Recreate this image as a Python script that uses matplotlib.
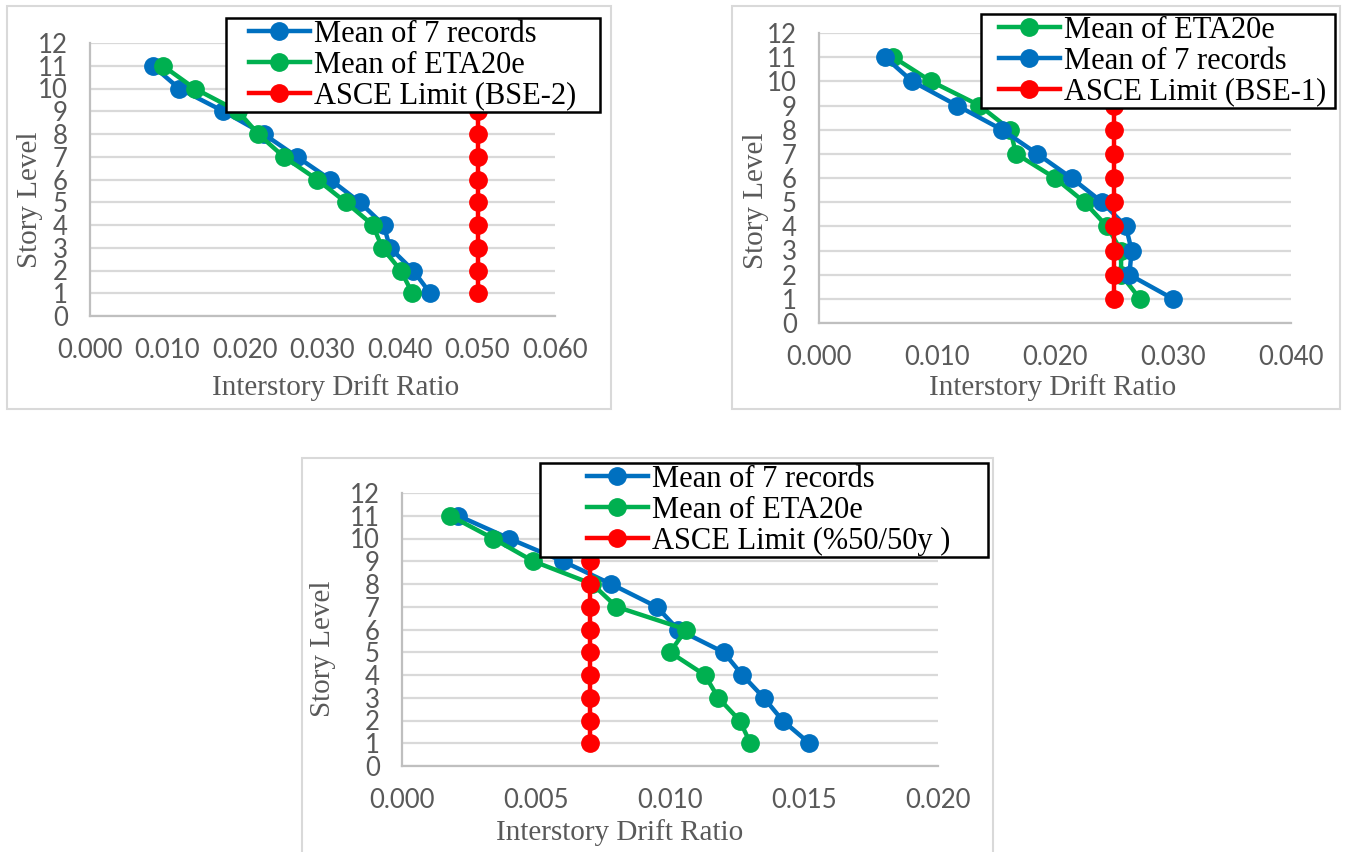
import matplotlib
matplotlib.use('Agg')
import matplotlib.pyplot as plt
from matplotlib.lines import Line2D
from matplotlib.legend_handler import HandlerLine2D
from matplotlib.patches import Rectangle
from matplotlib.ticker import FormatStrFormatter

plt.rcParams['font.family'] = ['Lato', 'DejaVu Sans']

# ---- data (story levels 1..11) ----
levels = [1, 2, 3, 4, 5, 6, 7, 8, 9, 10, 11]

# top-left panel (BSE-2)
p1_records = [0.0439, 0.0417, 0.0387, 0.0379, 0.0348, 0.0310, 0.0267, 0.0224, 0.0172, 0.0115, 0.0081]
p1_eta = [0.0416, 0.0401, 0.0377, 0.0365, 0.0330, 0.0293, 0.0250, 0.0217, 0.0191, 0.0135, 0.0094]
p1_limit = [0.050, 0.050, 0.050, 0.050, 0.050, 0.050, 0.050, 0.050, 0.050, 0.050, 0.050]
p1_xticks = [0.000, 0.010, 0.020, 0.030, 0.040, 0.050, 0.060]

# top-right panel (BSE-1)
p2_eta = [0.0272, 0.0256, 0.0256, 0.0244, 0.0225, 0.0200, 0.0167, 0.0162, 0.0136, 0.0095, 0.0063]
p2_records = [0.0300, 0.0263, 0.0265, 0.0260, 0.0240, 0.0214, 0.0185, 0.0155, 0.0117, 0.0079, 0.0056]
p2_limit = [0.025, 0.025, 0.025, 0.025, 0.025, 0.025, 0.025, 0.025, 0.025, 0.025, 0.025]
p2_xticks = [0.000, 0.010, 0.020, 0.030, 0.040]

# bottom panel (%50/50y)
p3_records = [0.0152, 0.0142, 0.0135, 0.0127, 0.0120, 0.0103, 0.0095, 0.0078, 0.0060, 0.0040, 0.0021]
p3_eta = [0.0130, 0.0126, 0.0118, 0.0113, 0.0100, 0.0106, 0.0080, 0.0071, 0.0049, 0.0034, 0.0018]
p3_limit = [0.007, 0.007, 0.007, 0.007, 0.007, 0.007, 0.007, 0.007, 0.007, 0.007, 0.007]
p3_xticks = [0.000, 0.005, 0.010, 0.015, 0.020]

yticks = [0, 1, 2, 3, 4, 5, 6, 7, 8, 9, 10, 11, 12]

BLUE = '#0070C0'
GREEN = '#00B050'
RED = '#FF0000'
GREY_TXT = '#595959'

W, H = 1346, 852
fig = plt.figure(figsize=(W / 100, H / 100), dpi=100)
fig.patch.set_facecolor('white')


def rect(l, t, r, b):
    return [l / W, 1 - b / H, (r - l) / W, (b - t) / H]


def panel(area, frame, series, xticks, leg_box, leg_xpad, xlab_pos, ylab_pos):
    # chart area border
    fl, ft, fr, fb = frame
    fig.add_artist(Rectangle((fl / W, 1 - fb / H), (fr - fl) / W, (fb - ft) / H,
                             transform=fig.transFigure, fill=False,
                             edgecolor='#D9D9D9', linewidth=1.5))
    ax = fig.add_axes(rect(*area))
    for xs, lab, col in series:
        ax.plot(xs, levels, '-o', color=col, lw=3.2, ms=12.5, label=lab, clip_on=False)
    ax.set_xlim(xticks[0], xticks[-1])
    ax.set_ylim(0, 12)
    ax.set_xticks(xticks)
    ax.set_yticks(yticks)
    ax.xaxis.set_major_formatter(FormatStrFormatter('%.3f'))
    ax.grid(axis='y', color='#D9D9D9', lw=1.6)
    ax.set_axisbelow(True)
    for s in ['top', 'right']:
        ax.spines[s].set_visible(False)
    for s in ['left', 'bottom']:
        ax.spines[s].set_color('#BFBFBF')
        ax.spines[s].set_linewidth(1.6)
    ax.tick_params(length=0, pad=16, labelsize=18.5, labelcolor=GREY_TXT)

    fig.text(xlab_pos[0] / W, 1 - xlab_pos[1] / H, 'Interstory Drift Ratio',
             ha='center', va='center', fontsize=21, color=GREY_TXT,
             family='Liberation Serif')
    fig.text(ylab_pos[0] / W, 1 - ylab_pos[1] / H, 'Story Level', rotation=90,
             ha='center', va='center', fontsize=21, color=GREY_TXT,
             family='Liberation Serif')

    l, t, r, b = leg_box
    fs = 22
    px = fs * 100 / 72
    hl = (61 + leg_xpad) / px
    leg = ax.legend(loc='upper left',
                    bbox_to_anchor=(l / W, 1 - t / H, (r - l) / W, 0),
                    bbox_transform=fig.transFigure, mode='expand',
                    borderaxespad=0, borderpad=0.06, labelspacing=0.06,
                    handlelength=hl, handletextpad=0.12, fancybox=False,
                    framealpha=1, edgecolor='black',
                    prop={'family': 'Liberation Serif', 'size': fs},
                    handler_map={Line2D: HandlerLine2D(xpad=leg_xpad / px)})
    leg.get_frame().set_linewidth(1.8)
    return ax


panel(area=(90, 43, 555, 316), frame=(7, 6, 611, 409),
      series=[(p1_records, 'Mean of 7 records', BLUE),
              (p1_eta, 'Mean of ETA20e', GREEN),
              (p1_limit, 'ASCE Limit (BSE-2)', RED)],
      xticks=p1_xticks, leg_box=(226, 18, 600, 110), leg_xpad=21,
      xlab_pos=(336, 388), ylab_pos=(30, 200))

panel(area=(819, 33, 1291, 323), frame=(732, 6, 1340, 409),
      series=[(p2_eta, 'Mean of ETA20e', GREEN),
              (p2_records, 'Mean of 7 records', BLUE),
              (p2_limit, 'ASCE Limit (BSE-1)', RED)],
      xticks=p2_xticks, leg_box=(981, 14, 1335, 106), leg_xpad=16,
      xlab_pos=(1053, 388), ylab_pos=(756, 201))

panel(area=(402, 493, 938, 766), frame=(302, 458, 993, 870),
      series=[(p3_records, 'Mean of 7 records', BLUE),
              (p3_eta, 'Mean of ETA20e', GREEN),
              (p3_limit, 'ASCE Limit (%50/50y )', RED)],
      xticks=p3_xticks, leg_box=(540, 463, 988, 558), leg_xpad=45,
      xlab_pos=(620, 833), ylab_pos=(323, 649))

fig.savefig('out.png', dpi=100, facecolor='white')
